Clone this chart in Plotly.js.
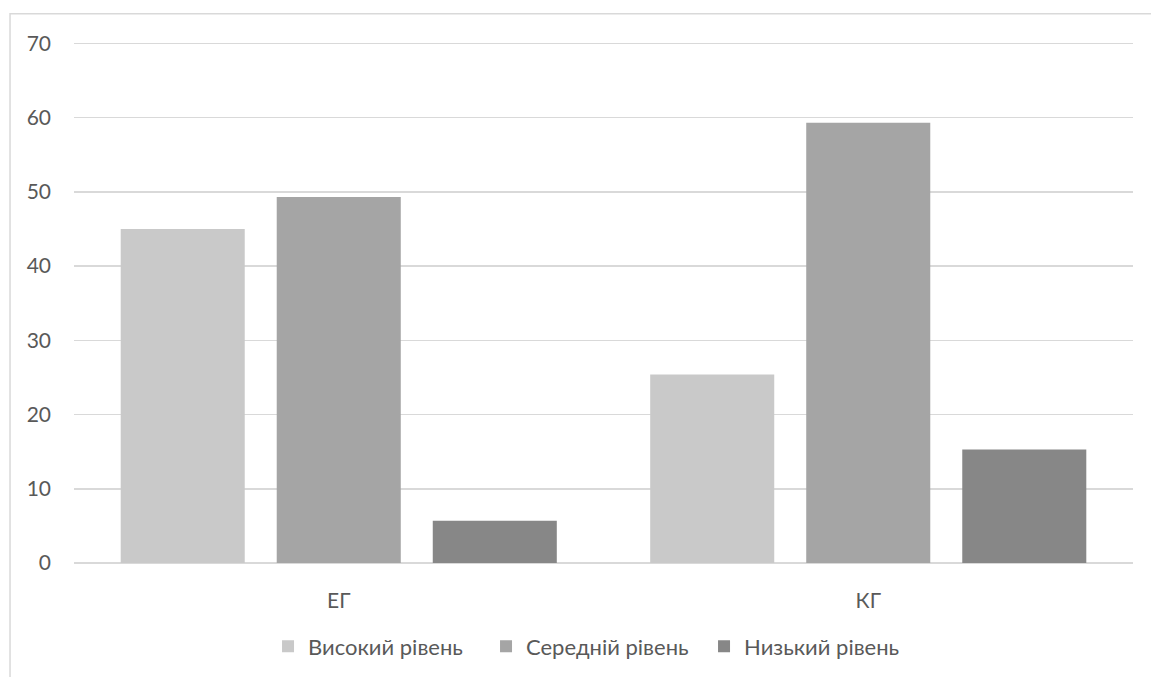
<!DOCTYPE html>
<html>
<head>
<meta charset="utf-8">
<script src="https://cdn.plot.ly/plotly-3.0.1.min.js"></script>
<style>
  html, body { margin: 0; padding: 0; background: #ffffff; }
  #chart { width: 1151px; height: 677px; }
</style>
</head>
<body>
<div id="chart"></div>
<script>
// Groups and levels
const groups = ['ЕГ', 'КГ'];
const seriesNames = ['Високий рівень', 'Середній рівень', 'Низький рівень'];
const highLevel = [45.0, 25.4];
const midLevel = [49.3, 59.3];
const lowLevel = [5.7, 15.3];
const yTicks = [0, 10, 20, 30, 40, 50, 60, 70];

const seriesValues = [highLevel, midLevel, lowLevel];
const seriesColors = ['#c9c9c9', '#a5a5a5', '#878787'];

const fontFamily = 'Lato, "Noto Sans", sans-serif';
const textColor = '#595959';

const traces = seriesValues.map((vals, i) => ({
  type: 'bar',
  name: seriesNames[i],
  x: groups,
  y: vals,
  marker: { color: seriesColors[i], line: { width: 0 } },
  hoverinfo: 'x+y+name'
}));

const layout = {
  width: 1151,
  height: 677,
  margin: { l: 74, r: 18, t: 36, b: 114 },
  paper_bgcolor: '#ffffff',
  plot_bgcolor: '#ffffff',
  font: { family: fontFamily, size: 21, color: textColor },
  barmode: 'group',
  bargap: 0.116,
  bargroupgap: 0.205,
  showlegend: true,
  legend: {
    orientation: 'h',
    x: 0.492, xanchor: 'center',
    yref: 'container',
    y: 0.045, yanchor: 'middle',
    itemwidth: 30,
    entrywidth: 173,
    entrywidthmode: 'pixels',
    font: { family: fontFamily, size: 22, color: textColor },
    itemclick: false,
    traceorder: 'normal'
  },
  xaxis: {
    type: 'category',
    showgrid: false,
    showline: false,
    zeroline: false,
    ticks: '',
    ticklabelstandoff: 23,
    tickfont: { family: fontFamily, size: 21, color: textColor }
  },
  yaxis: {
    range: [0, 71],
    tickvals: yTicks,
    ticktext: yTicks.map(String),
    showgrid: true,
    gridcolor: '#d9d9d9',
    gridwidth: 1.5,
    zeroline: true,
    zerolinecolor: '#d9d9d9',
    zerolinewidth: 1.5,
    showline: false,
    ticks: '',
    ticklabelstandoff: 22,
    tickfont: { family: fontFamily, size: 21, color: textColor }
  },
  shapes: [{
    type: 'rect',
    xref: 'paper', yref: 'paper',
    x0: -0.0604, x1: 1.2, y0: -0.5, y1: 1.0423,
    line: { color: '#d9d9d9', width: 1.5 },
    fillcolor: 'rgba(0,0,0,0)',
    layer: 'below'
  }]
};

Plotly.newPlot('chart', traces, layout, { displayModeBar: false, staticPlot: true });
</script>
</body>
</html>
